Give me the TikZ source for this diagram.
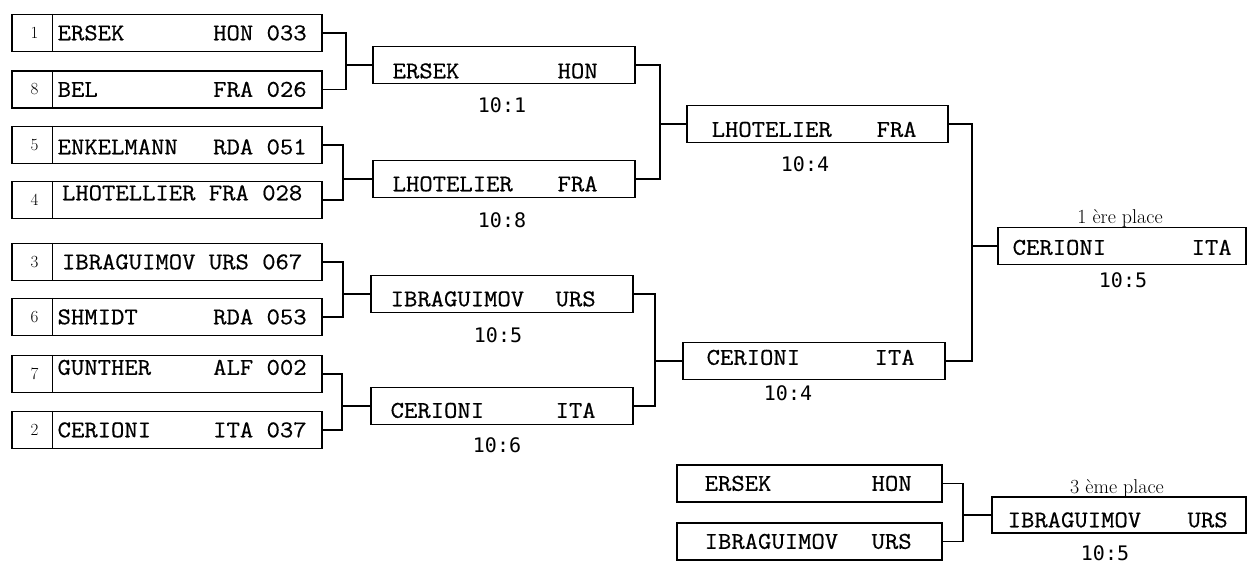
\documentclass[tikz,border=0pt]{standalone}
\usepackage{fontspec}
\newfontfamily\twfont[FakeStretch=1.08,FakeBold=0.6]{Latin Modern Mono}
\newfontfamily\scorefont{DejaVu Sans Mono}
\begin{document}
\begin{tikzpicture}[x=1pt,y=-1pt,
  box/.style={draw, line width=1.1pt, inner sep=0pt, minimum height=37pt},
  nm/.style={font=\twfont\fontsize{24}{26}\selectfont, inner sep=0pt, anchor=west, text height=14.5pt, text depth=0pt},
  sco/.style={font=\scorefont\fontsize{20}{22}\selectfont, inner sep=0pt},
  plc/.style={font=\fontsize{20}{22}\selectfont, inner sep=0pt},
  num/.style={font=\fontsize{17}{19}\selectfont, inner sep=0pt},
  conn/.style={line width=1.1pt},
  sepl/.style={line width=0.8pt}]
\useasboundingbox (0,0) rectangle (1249,565);

% ---------- round 1 ----------
\node[box, minimum width=310pt] (b1) at (167,33) {};
\node[box, minimum width=310pt] (b2) at (167,89.5) {};
\node[box, minimum width=310pt] (b3) at (167,145) {};
\node[box, minimum width=310pt] (b4) at (167,200) {};
\node[box, minimum width=310pt] (b5) at (167,262) {};
\node[box, minimum width=310pt] (b6) at (167,317) {};
\node[box, minimum width=310pt] (b7) at (167,374) {};
\node[box, minimum width=310pt] (b8) at (167,430) {};
\foreach \b/\k in {b1/1,b2/8,b3/5,b4/4,b5/3,b6/6,b7/7,b8/2}{
  \draw[sepl] ([xshift=41pt]\b.north west) -- ([xshift=41pt]\b.south west);
  \node[num] (\b k) at ([xshift=23pt]\b.west) {\k};
}
\node[nm] (b1n) at ([xshift=46pt]b1.west) {\makebox[249pt]{ERSEK\hfill HON 033}};
\node[nm] (b2n) at ([xshift=46pt]b2.west) {\makebox[249pt]{BEL\hfill FRA 026}};
\node[nm] (b3n) at ([xshift=46pt,yshift=-2pt]b3.west) {\makebox[249pt]{ENKELMANN\hfill RDA 051}};
\node[nm] (b4n) at ([xshift=46pt,yshift=7pt]b4.west) {\makebox[249pt]{LHOTELLIER FRA 028}};
\node[nm] (b5n) at ([xshift=46pt]b5.west) {\makebox[249pt]{IBRAGUIMOV URS 067}};
\node[nm] (b6n) at ([xshift=46pt]b6.west) {\makebox[249pt]{SHMIDT\hfill RDA 053}};
\node[nm] (b7n) at ([xshift=46pt,yshift=6.5pt]b7.west) {\makebox[249pt]{GUNTHER\hfill ALF 002}};
\node[nm] (b8n) at ([xshift=46pt]b8.west) {\makebox[249pt]{CERIONI\hfill ITA 037}};

% ---------- round 2 ----------
\node[box, minimum width=262pt] (r2a) at (504,65) {};
\node[box, minimum width=262pt] (r2b) at (504,179) {};
\node[box, minimum width=262pt] (r2c) at (502,294) {};
\node[box, minimum width=262pt] (r2d) at (502,406) {};
\node[nm] (r2an) at ([xshift=20pt,yshift=-6pt]r2a.west) {\makebox[205pt]{ERSEK\hfill HON}};
\node[nm] (r2bn) at ([xshift=20pt,yshift=-5pt]r2b.west) {\makebox[205pt]{LHOTELIER\hfill FRA}};
\node[nm] (r2cn) at ([xshift=20pt,yshift=-5pt]r2c.west) {\makebox[205pt]{IBRAGUIMOV\hfill URS}};
\node[nm] (r2dn) at ([xshift=20pt,yshift=-4.5pt]r2d.west) {\makebox[205pt]{CERIONI\hfill ITA}};
\node[sco] (s2a) at (502,105) {10:1};
\node[sco] (s2b) at (502,220) {10:8};
\node[sco] (s2c) at (498,335) {10:5};
\node[sco] (s2d) at (497,445) {10:6};

% ---------- round 3 ----------
\node[box, minimum width=261pt] (r3a) at (817.5,124) {};
\node[box, minimum width=262pt] (r3b) at (814,361) {};
\node[nm] (r3an) at ([xshift=25pt,yshift=-5.5pt]r3a.west) {\makebox[205pt]{LHOTELIER\hfill FRA}};
\node[nm] (r3bn) at ([xshift=24pt,yshift=3.5pt]r3b.west) {\makebox[208pt]{CERIONI\hfill ITA}};
\node[sco] (s3a) at (805,164) {10:4};
\node[sco] (s3b) at (788,393) {10:4};

% ---------- final ----------
\node[box, minimum width=248pt] (f1) at (1122,246) {};
\node[nm] (f1n) at ([xshift=15pt,yshift=-1.5pt]f1.west) {\makebox[219pt]{CERIONI\hfill ITA}};
\node[plc] (p1) at (1120,218) {1 ère place};
\node[sco] (sf1) at (1123,280) {10:5};

% ---------- third place ----------
\node[box, minimum width=265pt] (t1) at (809.5,483.5) {};
\node[box, minimum width=265pt] (t2) at (809.5,541.5) {};
\node[nm] (t1n) at ([xshift=28pt]t1.west) {\makebox[207pt]{ERSEK\hfill HON}};
\node[nm] (t2n) at ([xshift=28pt]t2.west) {\makebox[207pt]{IBRAGUIMOV\hfill URS}};
\node[box, minimum width=254pt, minimum height=36pt] (f3) at (1119,515) {};
\node[nm] (f3n) at ([xshift=16pt,yshift=-5pt]f3.west) {\makebox[220pt]{IBRAGUIMOV\hfill URS}};
\node[plc] (p3) at (1117,488) {3 ème place};
\node[sco] (sf3) at (1105,553) {10:5};

% ---------- connectors ----------
\coordinate (j1) at (346,0);
\coordinate (j2) at (343,0);
\coordinate (j3) at (343,0);
\coordinate (j4) at (342,0);
\coordinate (j5) at (660,0);
\coordinate (j6) at (655,0);
\coordinate (j7) at (972,0);
\coordinate (j8) at (963,0);
\foreach \u/\v/\j/\w in {b1/b2/j1/r2a, b3/b4/j2/r2b, b5/b6/j3/r2c, b7/b8/j4/r2d,
                         r2a/r2b/j5/r3a, r2c/r2d/j6/r3b, r3a/r3b/j7/f1, t1/t2/j8/f3}{
  \draw[conn] (\u.east) -- (\u.east -| \j) -- (\v.east -| \j) -- (\v.east);
  \draw[conn] (\w.west -| \j) -- (\w.west);
}
\end{tikzpicture}
\end{document}
